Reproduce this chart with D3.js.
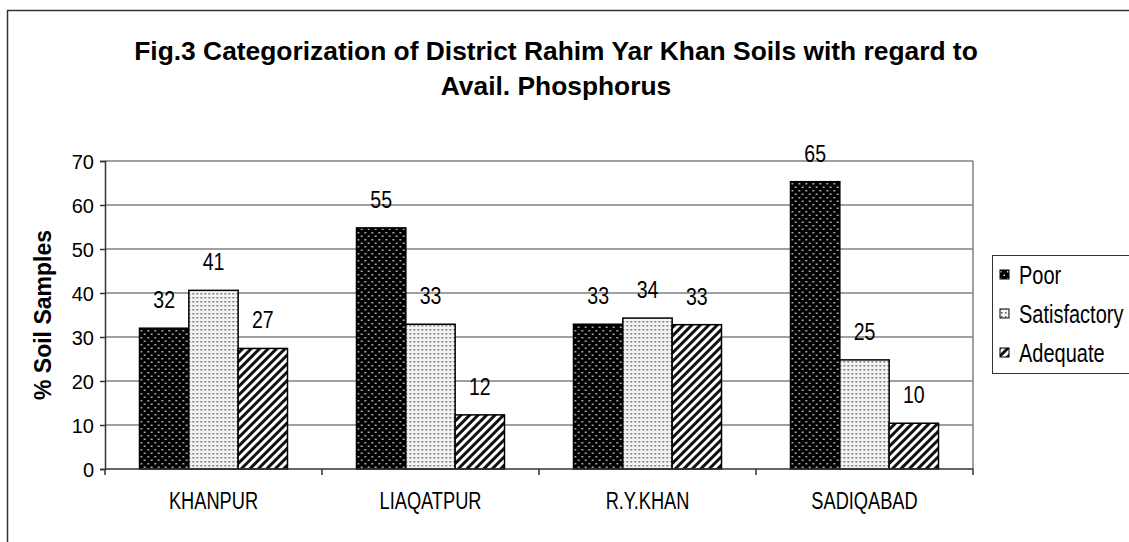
<!DOCTYPE html>
<html>
<head>
<meta charset="utf-8">
<script src="https://cdn.jsdelivr.net/npm/d3@7/dist/d3.min.js"></script>
<style>
  body { margin: 0; background: #fff; }
  svg text { font-family: "Liberation Sans", Arial, sans-serif; fill: #000; }
</style>
</head>
<body>
<div class="container"></div>
<script>
const categories = ["KHANPUR", "LIAQATPUR", "R.Y.KHAN", "SADIQABAD"];
const seriesNames = ["Poor", "Satisfactory", "Adequate"];
const poor = [32.0, 54.8, 32.9, 65.3];
const satisfactory = [40.6, 32.9, 34.3, 24.8];
const adequate = [27.4, 12.3, 32.8, 10.4];
const yTicks = [0, 10, 20, 30, 40, 50, 60, 70];
const titleLines = [
    "Fig.3 Categorization of District Rahim Yar Khan Soils with regard to",
    "Avail. Phosphorus"
];
const yLabel = "%  Soil Samples";

const w = 1129;
const h = 542;
const plot = { left: 105, right: 973, top: 161, bottom: 469 };

const svg = d3
    .select(".container")
    .append("svg")
    .attr("width", w)
    .attr("height", h);

// patterns for the three series
const defs = svg.append("defs");

const pPoor = defs.append("pattern")
    .attr("id", "pat-poor")
    .attr("patternUnits", "userSpaceOnUse")
    .attr("width", 7)
    .attr("height", 7);
pPoor.append("rect").attr("width", 7).attr("height", 7).attr("fill", "#000");
pPoor.append("rect").attr("x", 1).attr("y", 1).attr("width", 1.5).attr("height", 1.5).attr("fill", "#e0e0e0");
pPoor.append("rect").attr("x", 4.5).attr("y", 4.5).attr("width", 1.5).attr("height", 1.5).attr("fill", "#e0e0e0");

const pSat = defs.append("pattern")
    .attr("id", "pat-sat")
    .attr("patternUnits", "userSpaceOnUse")
    .attr("width", 4)
    .attr("height", 4);
pSat.append("rect").attr("width", 4).attr("height", 4).attr("fill", "#f4f4f4");
pSat.append("rect").attr("x", 1).attr("y", 1).attr("width", 1.5).attr("height", 1.5).attr("fill", "#555");

const pAde = defs.append("pattern")
    .attr("id", "pat-ade")
    .attr("patternUnits", "userSpaceOnUse")
    .attr("width", 6)
    .attr("height", 6)
    .attr("patternTransform", "rotate(45)");
pAde.append("rect").attr("width", 6).attr("height", 6).attr("fill", "#fff");
pAde.append("rect").attr("width", 3).attr("height", 6).attr("fill", "#111");

const fills = ["url(#pat-poor)", "url(#pat-sat)", "url(#pat-ade)"];

// squeeze text horizontally like the original narrow rendering
const squeeze = (sel, sx) => {
    sel.each(function () {
        const t = d3.select(this);
        const x = +t.attr("x") || 0;
        const y = +t.attr("y") || 0;
        t.attr("x", 0).attr("y", 0)
            .attr("transform", `translate(${x},${y}) scale(${sx},1)`);
    });
};

// outer frame
svg.append("rect")
    .attr("x", 7.5)
    .attr("y", 10.5)
    .attr("width", w + 10)
    .attr("height", h + 10)
    .attr("fill", "none")
    .attr("stroke", "#333")
    .attr("stroke-width", 1.5);

// title, first line stretched to the width seen in the original
const title = svg.append("g");
const tl = title.selectAll("text")
    .data(titleLines)
    .enter()
    .append("text")
    .attr("x", 556)
    .attr("y", (d, i) => 60 + i * 35)
    .attr("text-anchor", "middle")
    .style("font-weight", "bold")
    .style("font-size", "25px")
    .text((d) => d);
const titleScale = 844 / tl.node().getComputedTextLength();
tl.call(squeeze, titleScale);

const yScale = d3.scaleLinear().domain([0, 70]).range([plot.bottom, plot.top]);

const xScale = d3
    .scaleBand()
    .domain(categories)
    .range([plot.left, plot.right])
    .paddingInner(0.318)
    .paddingOuter(0.159);

const xSub = d3
    .scaleBand()
    .domain(seriesNames)
    .range([0, xScale.bandwidth()]);

// gridlines
svg.append("g")
    .selectAll("line")
    .data(yTicks.filter((d) => d > 0))
    .enter()
    .append("line")
    .attr("x1", plot.left)
    .attr("x2", plot.right)
    .attr("y1", (d) => yScale(d))
    .attr("y2", (d) => yScale(d))
    .attr("stroke", "#808080")
    .attr("stroke-width", 1.5);

svg.append("line")
    .attr("x1", plot.right)
    .attr("x2", plot.right)
    .attr("y1", plot.top)
    .attr("y2", plot.bottom)
    .attr("stroke", "#808080")
    .attr("stroke-width", 1.5);

// bars
const rows = categories.map((c, i) => ({
    cat: c,
    vals: [poor[i], satisfactory[i], adequate[i]]
}));

const groups = svg.append("g")
    .selectAll("g")
    .data(rows)
    .enter()
    .append("g")
    .attr("transform", (d) => `translate(${xScale(d.cat)},0)`);

groups.selectAll("rect")
    .data((d) => d.vals.map((v, j) => ({ s: seriesNames[j], v: v, j: j })))
    .enter()
    .append("rect")
    .attr("x", (d) => xSub(d.s))
    .attr("y", (d) => yScale(d.v))
    .attr("width", xSub.bandwidth())
    .attr("height", (d) => yScale(0) - yScale(d.v))
    .attr("fill", (d) => fills[d.j])
    .attr("stroke", "#000")
    .attr("stroke-width", 1.5);

groups.selectAll("text")
    .data((d) => d.vals.map((v, j) => ({ s: seriesNames[j], v: v })))
    .enter()
    .append("text")
    .attr("x", (d) => xSub(d.s) + xSub.bandwidth() / 2)
    .attr("y", (d) => yScale(d.v) - 20)
    .attr("text-anchor", "middle")
    .style("font-size", "23px")
    .text((d) => d3.format(".0f")(d.v))
    .call(squeeze, 0.85);

// axes
const yAxis = d3.axisLeft(yScale).tickValues(yTicks).tickSize(5).tickPadding(6);
const yG = svg.append("g")
    .attr("id", "y-axis")
    .attr("transform", `translate(${plot.left},0)`)
    .call(yAxis);
yG.select(".domain").attr("stroke", "#333").attr("stroke-width", 1.5);
yG.selectAll(".tick line").attr("stroke", "#333").attr("stroke-width", 1.5);
yG.selectAll(".tick text")
    .style("font-size", "20px")
    .style("font-family", "'Liberation Sans', Arial, sans-serif")
    .attr("dy", "0.35em");

const xAxis = d3.axisBottom(xScale).tickSize(0).tickPadding(22);
const xG = svg.append("g")
    .attr("id", "x-axis")
    .attr("transform", `translate(0,${plot.bottom})`)
    .call(xAxis);
xG.select(".domain").remove();
xG.append("line")
    .attr("x1", plot.left)
    .attr("x2", plot.right)
    .attr("stroke", "#333")
    .attr("stroke-width", 1.5);
// category separators
xG.selectAll(".sep")
    .data(d3.range(categories.length + 1))
    .enter()
    .append("line")
    .attr("class", "sep")
    .attr("x1", (d) => plot.left + d * xScale.step())
    .attr("x2", (d) => plot.left + d * xScale.step())
    .attr("y1", 0)
    .attr("y2", 6)
    .attr("stroke", "#333")
    .attr("stroke-width", 1.5);
xG.selectAll(".tick text")
    .style("font-size", "24px")
    .style("font-family", "'Liberation Sans', Arial, sans-serif")
    .attr("dy", "0")
    .attr("y", 40)
    .call(squeeze, 0.76);

// y title
svg.append("text")
    .attr("transform", "translate(51,315) rotate(-90)")
    .attr("text-anchor", "middle")
    .style("font-weight", "bold")
    .style("font-size", "23px")
    .text(yLabel);

// legend
const legend = svg.append("g").attr("transform", "translate(992,255)");
legend.append("rect")
    .attr("x", 0.5)
    .attr("y", 0.5)
    .attr("width", 160)
    .attr("height", 118)
    .attr("fill", "#fff")
    .attr("stroke", "#333")
    .attr("stroke-width", 1);

const items = legend.selectAll(".item")
    .data(seriesNames)
    .enter()
    .append("g")
    .attr("class", "item")
    .attr("transform", (d, i) => `translate(0,${29 + i * 39})`);
items.append("rect")
    .attr("x", 8)
    .attr("y", -14)
    .attr("width", 9)
    .attr("height", 9)
    .attr("fill", (d, i) => fills[i])
    .attr("stroke", "#000")
    .attr("stroke-width", 1);
items.append("text")
    .attr("x", 27)
    .attr("y", 0)
    .style("font-size", "25px")
    .text((d) => d)
    .call(squeeze, 0.8);
</script>
</body>
</html>
